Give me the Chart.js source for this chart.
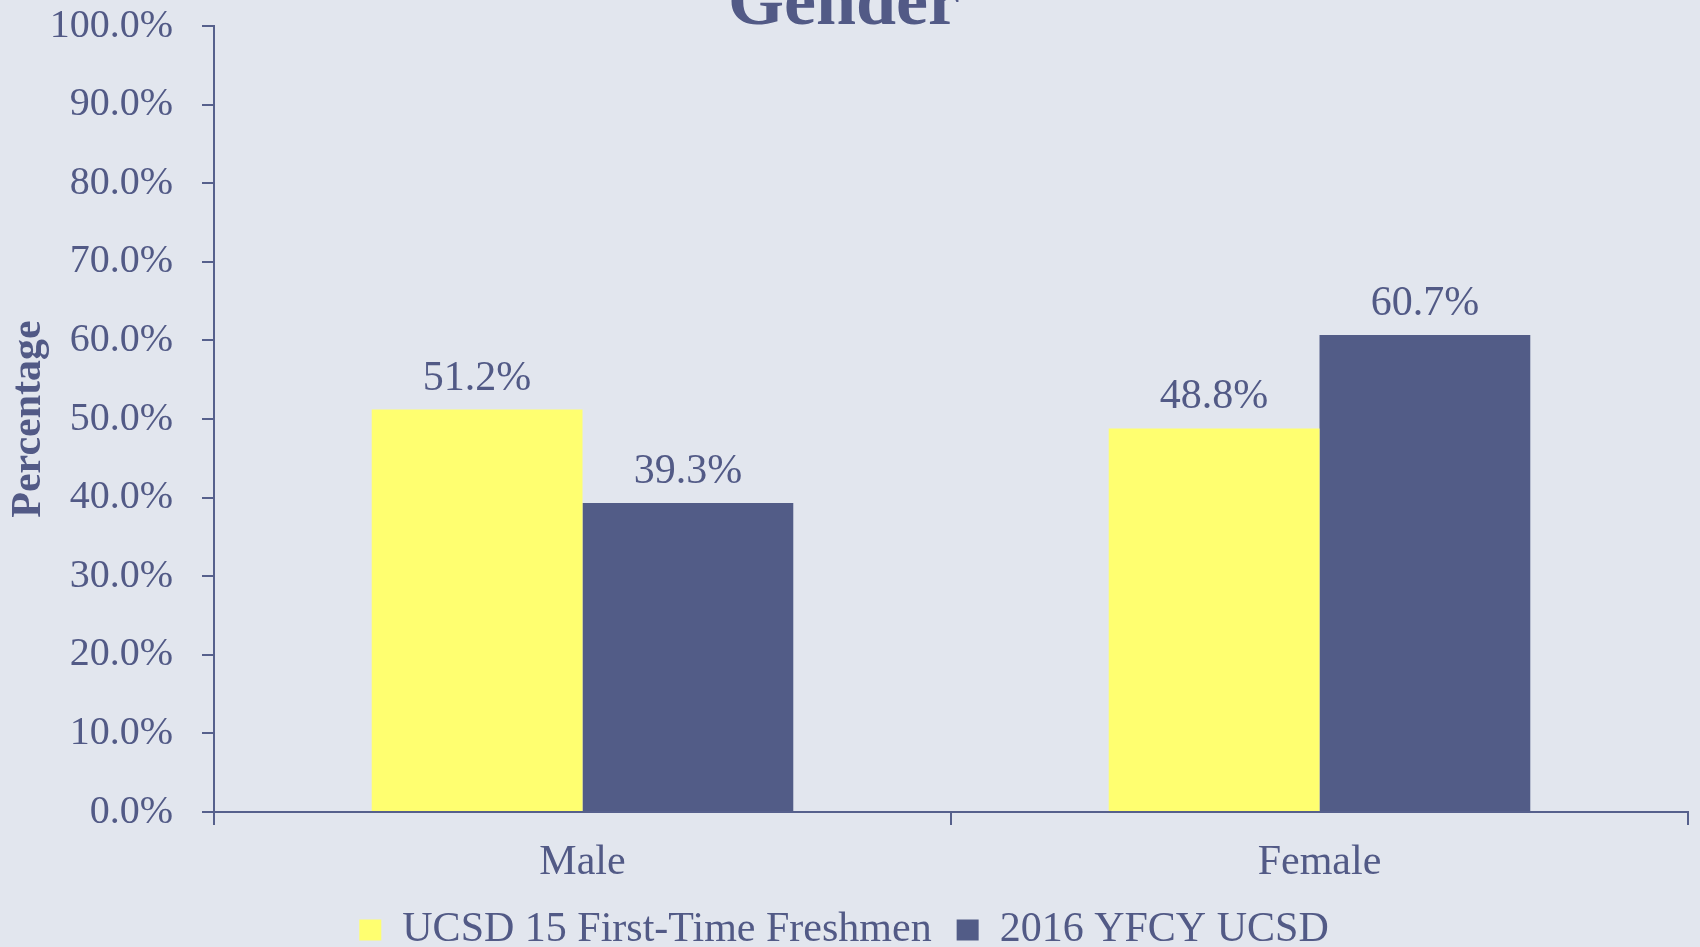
<!DOCTYPE html>
<html>
<head>
<meta charset="utf-8">
<title>Gender</title>
<script src="https://cdn.jsdelivr.net/npm/chart.js@4.4.1/dist/chart.umd.min.js"></script>
<style>
  html, body { margin: 0; padding: 0; background: #e2e6ee; overflow: hidden; }
  #frame { width: 1700px; height: 947px; overflow: hidden; }
  #wrap { width: 1700px; height: 961px; position: relative; }
</style>
</head>
<body>
<div id="frame"><div id="wrap"><canvas id="genderChart"></canvas></div></div>
<script>
    const categories = ['Male', 'Female'];
    const seriesNames = ['UCSD 15 First-Time Freshmen', '2016 YFCY UCSD'];
    const freshmen15 = [51.2, 48.8];
    const yfcy2016 = [39.3, 60.7];
    const yTickValues = [0, 10, 20, 30, 40, 50, 60, 70, 80, 90, 100];

    const textColor = '#525a86';
    const axisColor = '#56608c';

    Chart.defaults.font.family = '"Liberation Serif", "Times New Roman", serif';
    Chart.defaults.color = textColor;

    // value labels above each bar
    const barLabels = {
      id: 'barLabels',
      afterDatasetsDraw(chart) {
        const ctx = chart.ctx;
        ctx.save();
        ctx.font = '42px "Liberation Serif"';
        ctx.fillStyle = textColor;
        ctx.textAlign = 'center';
        ctx.textBaseline = 'alphabetic';
        chart.data.datasets.forEach((ds, i) => {
          chart.getDatasetMeta(i).data.forEach((bar, j) => {
            ctx.fillText(ds.data[j].toFixed(1) + '%', bar.x, bar.y - 20);
          });
        });
        ctx.restore();
      }
    };

    const ctx = document.getElementById('genderChart').getContext('2d');
    const chart = new Chart(ctx, {
      type: 'bar',
      data: {
        labels: categories,
        datasets: [
          {
            label: seriesNames[0],
            data: freshmen15,
            backgroundColor: '#ffff70', // yellow
            borderWidth: 0,
            categoryPercentage: 0.572,
            barPercentage: 1.0
          },
          {
            label: seriesNames[1],
            data: yfcy2016,
            backgroundColor: '#525c87', // slate blue
            borderWidth: 0,
            categoryPercentage: 0.572,
            barPercentage: 1.0
          }
        ]
      },
      plugins: [barLabels],
      options: {
        responsive: true,
        maintainAspectRatio: false,
        animation: false,
        layout: {
          padding: { top: 26, right: 12, left: 0, bottom: 0 }
        },
        plugins: {
          tooltip: { enabled: false },
          title: {
            display: true,
            text: 'Gender',
            color: textColor,
            font: { size: 72, weight: 'bold' },
            padding: { top: -64, bottom: -22.4 }
          },
          legend: {
            position: 'bottom',
            labels: {
              color: textColor,
              boxWidth: 22,
              boxHeight: 21,
              padding: 25,
              font: { size: 42 }
            }
          }
        },
        scales: {
          x: {
            grid: {
              drawOnChartArea: false,
              tickLength: 13,
              color: axisColor,
              lineWidth: 2,
              offset: true
            },
            border: { color: axisColor, width: 2 },
            ticks: {
              color: textColor,
              font: { size: 42, lineHeight: 1 },
              padding: 17
            },
            afterFit: axis => {
              axis.height = 72;
            }
          },
          y: {
            min: 0,
            max: 100,
            afterBuildTicks: axis => {
              axis.ticks = yTickValues.map(v => ({ value: v }));
            },
            afterFit: axis => {
              axis.width = 214;
              axis.paddingTop = 0;
              axis.paddingBottom = 0;
            },
            grid: {
              drawOnChartArea: false,
              tickLength: 12,
              color: axisColor,
              lineWidth: 2
            },
            border: { color: axisColor, width: 2 },
            ticks: {
              color: textColor,
              font: { size: 40 },
              padding: 29,
              callback: v => v.toFixed(1) + '%'
            },
            title: {
              display: true,
              text: 'Percentage',
              color: textColor,
              font: { size: 42, weight: 'bold', lineHeight: 1 },
              padding: { top: 8, bottom: 0 }
            }
          }
        }
      }
    });
</script>
</body>
</html>
